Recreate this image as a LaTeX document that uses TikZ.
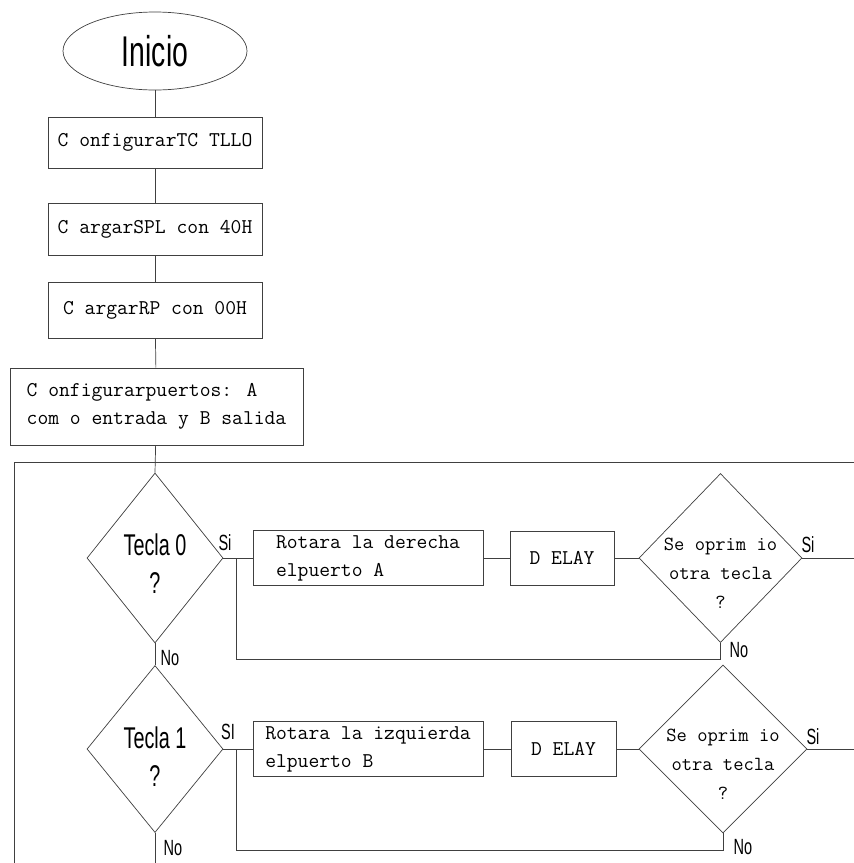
\documentclass[tikz,border=0pt]{standalone}
\usepackage{fontspec}
\newfontfamily\nsans[FakeStretch=0.66]{Liberation Sans}
\usetikzlibrary{shapes.geometric}
\begin{document}
\begin{tikzpicture}[x=1pt,y=-1pt,
 line/.style={draw=black!75,line width=0.7pt},
 procbox/.style={line,rectangle,inner sep=0pt,align=left,font=\fontsize{21}{28}\selectfont\ttfamily},
 decis/.style={line,diamond,inner sep=0pt},
 lbl/.style={font=\fontsize{22}{22}\selectfont\nsans,inner sep=0pt},
 dtxt/.style={align=center,font=\fontsize{20}{29}\selectfont\ttfamily},
 ttxt/.style={align=center,font=\fontsize{30}{38}\selectfont\nsans}
]
\useasboundingbox[fill=white] (0,0) rectangle (854,863);

% top chain
\node[line,ellipse,minimum width=184pt,minimum height=78pt,inner sep=0pt,font=\fontsize{43}{43}\selectfont\nsans] (ini) at (155,51) {Inicio};
\node[procbox,minimum width=214pt,minimum height=51pt] (b1) at (155,142.5) {C onfigurarTC TLLO};
\node[procbox,minimum width=214pt,minimum height=52pt] (b2) at (155,229) {C argarSPL con 40H};
\node[procbox,minimum width=214pt,minimum height=56pt] (b3) at (155,310) {C argarRP con 00H};
\node[procbox,minimum width=293pt,minimum height=77pt] (b4) at (156.5,406.5) {C onfigurarpuertos: A\\com o entrada y B salida};

% row 1
\node[decis,minimum width=136pt,minimum height=170pt,label={[ttxt,yshift=-6pt]center:{Tecla 0\\?}}] (d1) at (155,558) {};
\node[procbox,minimum width=230pt,minimum height=55pt] (r1) at (368,558) {Rotara la derecha\\elpuerto A};
\node[procbox,minimum width=104pt,minimum height=54pt] (del1) at (562,558) {D ELAY};
\node[decis,minimum width=163pt,minimum height=169pt,label={[dtxt,yshift=-15pt]center:{Se oprim io\\otra tecla\\?}}] (d3) at (720.5,558) {};

% row 2
\node[decis,minimum width=136pt,minimum height=167pt,label={[ttxt,yshift=-8pt]center:{Tecla 1\\?}}] (d2) at (155,749) {};
\node[procbox,minimum width=230pt,minimum height=55pt] (r2) at (368,749) {Rotara la izquierda\\elpuerto B};
\node[procbox,minimum width=105pt,minimum height=55pt] (del2) at (563.5,749) {D ELAY};
\node[decis,minimum width=168pt,minimum height=168pt,label={[dtxt,yshift=-15pt]center:{Se oprim io\\otra tecla\\?}}] (d4) at (723,749) {};

% coordinates
\coordinate (loopR) at (856,462);
\coordinate (loopL) at (14,462);
\coordinate (loopB) at (14,865);
\coordinate (j1) at (236,558);
\coordinate (j2) at (236,749);
\coordinate (out1) at (856,558);
\coordinate (out2) at (856,749);
\coordinate (down) at (155,865);

% connectors
\draw[line] (ini) -- (b1);
\draw[line] (b1) -- (b2);
\draw[line] (b2) -- (b3);
\draw[line] (b3) -- (b4);
\draw[line] (b4) -- (d1.north);
\draw[line] (loopR) -- (loopL) -- (loopB);
\draw[line] (d1.east) -- (r1.west);
\draw[line] (r1) -- (del1);
\draw[line] (del1) -- (d3.west);
\draw[line] (d3.east) -- (out1);
\draw[line] (j1) -- ++(0,101) -| (d3.south);
\draw[line] (d1.south) -- (d2.north);
\draw[line] (d2.east) -- (r2.west);
\draw[line] (r2) -- (del2);
\draw[line] (del2) -- (d4.west);
\draw[line] (d4.east) -- (out2);
\draw[line] (j2) -- ++(0,101) -| (d4.south);
\draw[line] (d2.south) -- (down);

% labels
\node[lbl] (s1) at (225,543) {Si};
\node[lbl] (s2) at (228,732) {SI};
\node[lbl] (s3) at (808,545) {Si};
\node[lbl] (s4) at (813,737) {Si};
\node[lbl] (n1) at (170,658) {No};
\node[lbl] (n2) at (173,848) {No};
\node[lbl] (n3) at (739,650) {No};
\node[lbl] (n4) at (743,847) {No};
\end{tikzpicture}
\end{document}
